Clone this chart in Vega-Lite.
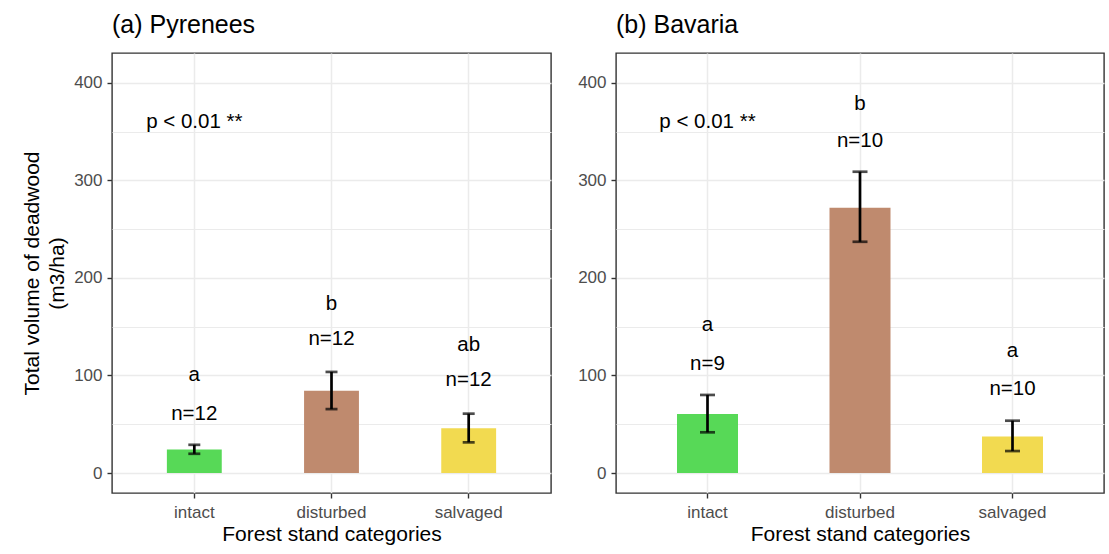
{
  "$schema": "https://vega.github.io/schema/vega-lite/v6.json",
  "background": "white",
  "padding": {"left": 20, "top": 12, "right": 5, "bottom": 5},
  "spacing": 24,
  "config": {
    "font": "Liberation Sans",
    "view": {"stroke": "#333333", "strokeWidth": 1.4},
    "title": {"fontSize": 25, "fontWeight": "normal", "anchor": "start", "color": "#000000", "offset": 15, "baseline": "alphabetic", "frame": "group", "font": "Liberation Sans"},
    "axis": {
      "labelFont": "Liberation Sans", "labelFontSize": 17, "labelColor": "#4d4d4d",
      "titleFont": "Liberation Sans", "titleFontSize": 21, "titleFontWeight": "normal", "titleColor": "#000000",
      "tickColor": "#333333", "tickSize": 5, "tickWidth": 1.4, "domain": false,
      "gridColor": "#ebebeb", "gridWidth": 1.5
    }
  },
  "datasets": {
    "bars": [
      {"region": "Pyrenees", "category": "intact", "mean": 24.2, "lo": 19.7, "hi": 28.9},
      {"region": "Pyrenees", "category": "disturbed", "mean": 84.3, "lo": 65.5, "hi": 103.6},
      {"region": "Pyrenees", "category": "salvaged", "mean": 45.8, "lo": 31.4, "hi": 60.8},
      {"region": "Bavaria", "category": "intact", "mean": 60.5, "lo": 41.7, "hi": 80.0},
      {"region": "Bavaria", "category": "disturbed", "mean": 272.0, "lo": 237.0, "hi": 308.8},
      {"region": "Bavaria", "category": "salvaged", "mean": 37.5, "lo": 22.5, "hi": 53.6}
    ],
    "annot": [
      {"region": "Pyrenees", "category": "intact", "y": 360, "label": "p < 0.01 **"},
      {"region": "Pyrenees", "category": "intact", "y": 100.2, "label": "a"},
      {"region": "Pyrenees", "category": "intact", "y": 60.5, "label": "n=12"},
      {"region": "Pyrenees", "category": "disturbed", "y": 173.3, "label": "b"},
      {"region": "Pyrenees", "category": "disturbed", "y": 137.4, "label": "n=12"},
      {"region": "Pyrenees", "category": "salvaged", "y": 130.9, "label": "ab"},
      {"region": "Pyrenees", "category": "salvaged", "y": 95.0, "label": "n=12"},
      {"region": "Bavaria", "category": "intact", "y": 360, "label": "p < 0.01 **"},
      {"region": "Bavaria", "category": "intact", "y": 151.5, "label": "a"},
      {"region": "Bavaria", "category": "intact", "y": 111.7, "label": "n=9"},
      {"region": "Bavaria", "category": "disturbed", "y": 378.2, "label": "b"},
      {"region": "Bavaria", "category": "disturbed", "y": 340.7, "label": "n=10"},
      {"region": "Bavaria", "category": "salvaged", "y": 125.2, "label": "a"},
      {"region": "Bavaria", "category": "salvaged", "y": 86.1, "label": "n=10"}
    ]
  },
  "hconcat": [
    {
      "width": 439,
      "height": 440,
      "title": "(a) Pyrenees",
      "encoding": {
        "x": {
          "field": "category", "type": "nominal",
          "sort": ["intact", "disturbed", "salvaged"],
          "scale": {"domain": ["intact", "disturbed", "salvaged"], "paddingInner": 0.6, "paddingOuter": 0.4},
          "axis": {"title": "Forest stand categories", "labelAngle": 0, "labelPadding": 6, "titlePadding": 3, "bandPosition": 0.5, "grid": true}
        }
      },
      "layer": [
        {
          "data": {"name": "bars"},
          "transform": [{"filter": "datum.region === 'Pyrenees'"}],
          "mark": {"type": "bar"},
          "encoding": {
            "y": {
              "field": "mean", "type": "quantitative",
              "title": ["Total volume of deadwood", "(m3/ha)"],
              "scale": {"domain": [-20.5, 430.5], "nice": false, "zero": false},
              "axis": {
                "values": [0, 50, 100, 150, 200, 250, 300, 350, 400],
                "labelExpr": "datum.value % 100 === 0 ? datum.label : ''",
                "tickOpacity": {"condition": {"test": "datum.value % 100 === 0", "value": 1}, "value": 0},
                "gridWidth": {"condition": {"test": "datum.value % 100 === 0", "value": 1.5}, "value": 1},
                "labelPadding": 5, "titlePadding": 6, "titleLineHeight": 25
              }
            },
            "color": {
              "field": "category", "type": "nominal",
              "scale": {"domain": ["intact", "disturbed", "salvaged"], "range": ["#57d957", "#bf8a6e", "#f2da50"]},
              "legend": null
            }
          }
        },
        {
          "data": {"name": "bars"},
          "transform": [{"filter": "datum.region === 'Pyrenees'"}],
          "mark": {"type": "rule", "color": "black", "strokeWidth": 2.7},
          "encoding": {
            "y": {"field": "lo", "type": "quantitative", "title": ["Total volume of deadwood", "(m3/ha)"]},
            "y2": {"field": "hi"}
          }
        },
        {
          "data": {"name": "bars"},
          "transform": [{"filter": "datum.region === 'Pyrenees'"}],
          "mark": {"type": "tick", "color": "black", "size": 12, "thickness": 2.7},
          "encoding": {"y": {"field": "lo", "type": "quantitative", "title": ["Total volume of deadwood", "(m3/ha)"]}}
        },
        {
          "data": {"name": "bars"},
          "transform": [{"filter": "datum.region === 'Pyrenees'"}],
          "mark": {"type": "tick", "color": "black", "size": 12, "thickness": 2.7},
          "encoding": {"y": {"field": "hi", "type": "quantitative", "title": ["Total volume of deadwood", "(m3/ha)"]}}
        },
        {
          "data": {"name": "annot"},
          "transform": [{"filter": "datum.region === 'Pyrenees'"}],
          "mark": {"type": "text", "fontSize": 20.5, "color": "black", "align": "center", "baseline": "middle", "font": "Liberation Sans"},
          "encoding": {
            "y": {"field": "y", "type": "quantitative", "title": ["Total volume of deadwood", "(m3/ha)"]},
            "text": {"field": "label", "type": "nominal"}
          }
        }
      ]
    },
    {
      "width": 488,
      "height": 440,
      "title": "(b) Bavaria",
      "encoding": {
        "x": {
          "field": "category", "type": "nominal",
          "sort": ["intact", "disturbed", "salvaged"],
          "scale": {"domain": ["intact", "disturbed", "salvaged"], "paddingInner": 0.6, "paddingOuter": 0.4},
          "axis": {"title": "Forest stand categories", "labelAngle": 0, "labelPadding": 6, "titlePadding": 3, "bandPosition": 0.5, "grid": true}
        }
      },
      "layer": [
        {
          "data": {"name": "bars"},
          "transform": [{"filter": "datum.region === 'Bavaria'"}],
          "mark": {"type": "bar"},
          "encoding": {
            "y": {
              "field": "mean", "type": "quantitative",
              "title": null,
              "scale": {"domain": [-20.5, 430.5], "nice": false, "zero": false},
              "axis": {
                "values": [0, 50, 100, 150, 200, 250, 300, 350, 400],
                "labelExpr": "datum.value % 100 === 0 ? datum.label : ''",
                "tickOpacity": {"condition": {"test": "datum.value % 100 === 0", "value": 1}, "value": 0},
                "gridWidth": {"condition": {"test": "datum.value % 100 === 0", "value": 1.5}, "value": 1},
                "labelPadding": 5
              }
            },
            "color": {
              "field": "category", "type": "nominal",
              "scale": {"domain": ["intact", "disturbed", "salvaged"], "range": ["#57d957", "#bf8a6e", "#f2da50"]},
              "legend": null
            }
          }
        },
        {
          "data": {"name": "bars"},
          "transform": [{"filter": "datum.region === 'Bavaria'"}],
          "mark": {"type": "rule", "color": "black", "strokeWidth": 2.7},
          "encoding": {
            "y": {"field": "lo", "type": "quantitative", "title": null},
            "y2": {"field": "hi"}
          }
        },
        {
          "data": {"name": "bars"},
          "transform": [{"filter": "datum.region === 'Bavaria'"}],
          "mark": {"type": "tick", "color": "black", "size": 15, "thickness": 2.7},
          "encoding": {"y": {"field": "lo", "type": "quantitative", "title": null}}
        },
        {
          "data": {"name": "bars"},
          "transform": [{"filter": "datum.region === 'Bavaria'"}],
          "mark": {"type": "tick", "color": "black", "size": 15, "thickness": 2.7},
          "encoding": {"y": {"field": "hi", "type": "quantitative", "title": null}}
        },
        {
          "data": {"name": "annot"},
          "transform": [{"filter": "datum.region === 'Bavaria'"}],
          "mark": {"type": "text", "fontSize": 20.5, "color": "black", "align": "center", "baseline": "middle", "font": "Liberation Sans"},
          "encoding": {
            "y": {"field": "y", "type": "quantitative", "title": null},
            "text": {"field": "label", "type": "nominal"}
          }
        }
      ]
    }
  ]
}
